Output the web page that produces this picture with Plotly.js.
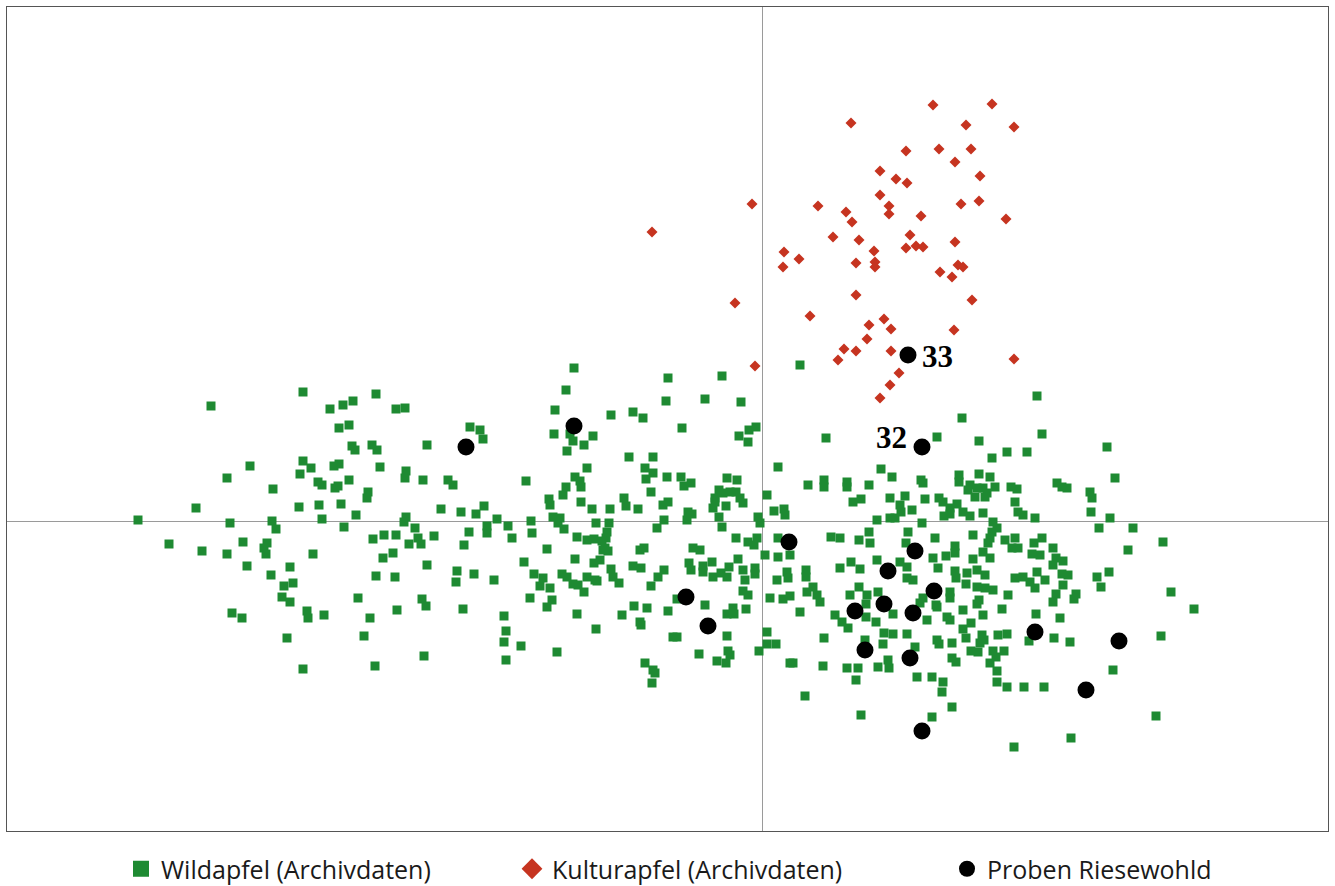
<!DOCTYPE html>
<html>
<head>
<meta charset="utf-8">
<script src="https://cdn.plot.ly/plotly-3.0.1.min.js"></script>
<style>html,body{margin:0;padding:0;background:#fff;}#chart{width:1335px;height:886px;}</style>
</head>
<body>
<div id="chart"></div>
<script>
// Scores on the two ordination axes (arbitrary units, origin = axis crossing)
const wildName = "Wildapfel (Archivdaten)";
const kulturName = "Kulturapfel (Archivdaten)";
const probenName = "Proben Riesewohld";

const wildX = [
-459,-551,-386,-432,-419,-409,-366,-423,-413,-410,-407,-390,-385,-382,-512,-459,-451,-462,-428,-423,
-535,-489,-444,-440,-427,-424,-413,-394,-395,-566,-463,-443,-421,-406,-440,-624,-532,-490,-486,-418,
-593,-519,-495,-498,-389,-378,-366,-560,-535,-449,-369,-496,-515,-491,-472,-478,-469,-480,-472,-530,
-520,-455,-454,-438,-475,-459,-379,-386,-367,-404,-365,-392,-398,-387,
-188,-196,-94,-96,-357,-207,-151,-129,-119,-292,-282,-279,-335,-208,-192,-189,-178,-169,-195,-133,
-109,-117,-109,-116,-95,-356,-357,-339,-314,-309,-236,-175,-187,-182,-181,-196,-199,-181,-213,-212,
-111,-138,-136,-124,-99,-94,-321,-301,-286,-278,-170,-152,-356,-358,-347,-344,-353,-341,-328,-298,
-293,-275,-275,-265,-254,-250,-231,-230,-209,-202,-204,-198,-166,-153,-155,-156,-185,-175,-168,-160,
-105,-98,-215,-157,-122,-118,
-335,-305,-306,-288,-268,-238,-228,-219,-222,-212,-232,-210,-215,-200,-195,-187,-189,-184,-178,-175,
-167,-165,-168,-162,-159,-154,-151,-149,-143,-129,-121,-104,-98,-111,-340,-336,-299,-258,-256,-258,
-241,-256,-205,-338,-185,-166,-140,-128,-115,-122,-121,-94,-117,-109,-107,-110,
38,-40,-57,-21,-80,-23,-14,-13,-6,64,16,119,130,-81,-78,-71,-35,-25,-43,-47,
-39,-32,-26,-22,-19,-36,-49,-47,-43,-74,-70,-75,-40,-4,-2,5,12,22,23,46,
62,62,85,85,107,91,99,128,143,138,139,150,159,161,163,115,128,133,160,146,
177,-26,-14,-5,-8,-69,-62,16,69,78,97,107,108,144,173,
275,200,280,175,217,345,230,245,265,353,197,197,217,228,208,206,215,221,225,233,
213,223,249,255,295,300,305,328,330,181,188,195,201,208,182,188,221,253,256,261,
273,329,348,337,371,401,231,211,230,228,235,193,226,243,253,280,272,291,366,250,256,
171,184,193,221,228,211,270,278,294,301,291,176,193,205,215,223,253,261,275,268,
283,300,306,335,347,339,194,204,215,223,231,188,188,175,201,217,215,221,240,246,
273,294,291,301,314,312,185,188,209,201,204,175,177,190,220,222,218,236,245,274,
298,267,292,308,209,216,231,242,190,194,228,234,235,170,181,180,235,245,262,282,
190,170,252,309,394,351,399,409,432,
-73,-71,-59,-59,-50,-49,-41,-35,-33,-24,-19,-7,-7,-17,-19,-14,-85,-57,-35,-29,
-28,-16,-89,-85,-35,-63,-34,-32,-45,-36,-3,5,5,14,3,16,28,15,26,25,
8,21,28,38,44,44,51,45,55,58,73,80,86,78,89,98,115,97,88,105,
104,104,114,116,131,138,145,145,151,161,158,165,174,62,103,122,131,145,121,153,
28,31,61,85,96,116,126,127,94,155,43,99
];
const wildY = [
129,115,127,112,116,120,112,93,96,75,71,76,71,54,55,60,53,47,55,57,
43,32,39,36,33,35,41,29,23,13,14,16,17,6,2,1,-2,0,-8,-6,
-23,-21,-22,-27,-18,-14,-14,-30,-33,-33,-32,-33,-45,-54,-46,-65,-62,-76,-81,-92,
-97,-90,-97,-94,-117,-148,-37,-55,-56,-77,-89,-97,-115,-145,
153,131,143,120,113,111,106,109,103,94,91,82,76,87,87,80,76,85,70,64,
64,53,48,42,44,50,43,41,41,36,40,53,44,40,34,34,26,19,22,16,
29,23,15,12,16,19,12,9,7,15,12,12,4,-1,-7,-17,-23,-23,-15,-24,
-11,-5,-12,2,-5,-17,0,-12,4,3,-2,-8,-2,-2,-11,-17,-16,-19,-18,-20,
-7,1,-28,-27,-29,-27,
-44,-50,-61,-53,-59,-41,-53,-57,-65,-67,-77,-79,-86,-53,-56,-38,-63,-64,-71,-56,
-59,-60,-42,-39,-29,-30,-48,-56,-62,-45,-47,-56,-49,-65,-78,-85,-88,-95,-110,-121,
-125,-139,-131,-135,-93,-108,-94,-85,-87,-101,-104,-90,-142,-149,-152,-162,
156,145,122,119,93,85,79,91,94,83,54,52,44,44,35,38,43,41,31,23,
28,29,29,23,18,15,13,19,4,9,7,1,-6,4,-2,26,10,12,6,36,
41,34,39,34,36,19,22,23,25,16,9,11,41,38,22,1,3,3,-2,-11,
23,-17,-21,-17,-24,-27,-29,-17,-16,-17,-19,-11,-22,-22,-17,
125,103,87,84,80,74,63,69,69,43,46,39,47,44,36,31,33,33,28,34,
24,24,34,32,38,34,33,29,23,19,13,17,9,5,5,7,8,19,9,6,
3,9,3,-7,-7,-21,-1,-14,-11,-17,-7,-25,-22,-19,-17,-17,-22,-27,-29,-27,-27,
-37,-35,-32,-31,-37,-38,-33,-34,-37,-40,-44,-47,-50,-52,-49,-54,-57,-56,-51,-61,
-59,-53,-54,-56,-51,-66,-57,-63,-66,-67,-69,-71,-77,-86,-89,-79,-83,-94,-88,-74,
-67,-73,-81,-64,-73,-78,-96,-99,-102,-108,-117,-119,-123,-122,-114,-119,-122,-114,-113,-93,
-97,-120,-117,-121,-130,-131,-130,-130,-137,-141,-142,-136,-150,-156,-161,-171,-161,-166,-166,-166,
-186,-196,-226,-217,-195,-149,-115,-71,-88,
-42,-49,-45,-51,-41,-56,-52,-56,-46,-38,-49,-47,-53,-59,-70,-74,-78,-84,-93,-87,
-93,-88,-116,-116,-115,-133,-130,-134,-140,-142,-130,-111,-123,-123,-34,-36,-34,-59,-57,-51,
-77,-78,-75,-91,-49,-56,-66,-71,-74,-81,-94,-101,-107,-47,-41,-48,-39,-66,-74,-74,
-83,-96,-101,-71,-93,-41,-46,-57,-59,-77,-82,-99,-84,-117,-119,-112,-113,-113,-123,-126,
-142,-142,-145,-147,-147,-146,-139,-147,-159,-156,-175,-194
];

const kulturX = [
171,230,89,204,252,144,177,209,193,118,134,145,218,118,-10,56,127,199,217,84,
127,159,90,244,-110,71,97,148,193,144,154,161,22,37,21,112,94,113,113,178,
196,201,190,94,210,-27,48,122,107,129,192,105,82,94,129,76,252,-7,137,128,118
];
const kulturY = [
416,417,398,396,394,370,372,372,359,350,342,338,345,326,317,315,315,317,320,309,
307,305,299,302,289,284,281,286,279,273,275,274,269,262,254,270,258,259,254,249,
256,254,244,226,221,218,205,202,196,192,191,182,172,170,170,161,162,155,148,136,123
];

const probenX = [146,160,-296,-188,27,153,126,172,-76,122,93,151,-54,273,357,103,148,324,160];
const probenY = [166,74,74,95,-21,-30,-50,-70,-76,-83,-90,-92,-105,-111,-120,-129,-137,-169,-210];
const probenLabels = ["33","32","","","","","","","","","","","","","","","","",""];

const xRange = [-755, 566];
const yRange = [-310, 514];

const GREEN = "rgb(30,138,50)";
const RED = "rgb(198,52,32)";
const BLACK = "#000000";

const traces = [
  {type:"scatter", mode:"markers", x:wildX, y:wildY, name:wildName, showlegend:false,
   marker:{symbol:"square", size:9, color:GREEN, line:{width:0}}, hoverinfo:"x+y"},
  {type:"scatter", mode:"markers", x:kulturX, y:kulturY, name:kulturName, showlegend:false,
   marker:{symbol:"diamond", size:8.5, color:RED, line:{width:0}}, hoverinfo:"x+y"},
  {type:"scatter", mode:"markers", x:probenX, y:probenY, name:probenName, showlegend:false,
   marker:{symbol:"circle", size:17, color:BLACK, line:{width:0}}, hoverinfo:"x+y"},
  // legend entries (larger symbols)
  {type:"scatter", mode:"markers", x:[null], y:[null], name:wildName, legend:"legend",
   marker:{symbol:"square", size:24, color:GREEN}},
  {type:"scatter", mode:"markers", x:[null], y:[null], name:kulturName, legend:"legend2",
   marker:{symbol:"diamond", size:20, color:RED}},
  {type:"scatter", mode:"markers", x:[null], y:[null], name:probenName, legend:"legend3",
   marker:{symbol:"circle", size:24, color:BLACK}}
];

const annotations = [];
probenLabels.forEach((lab, i) => {
  if (!lab) return;
  const right = (lab === "33");
  annotations.push({
    x: probenX[i], y: probenY[i], xref:"x", yref:"y", text: lab, showarrow:false,
    xanchor: right ? "left" : "right", yanchor:"middle",
    xshift: right ? 12 : -13, yshift: right ? -1 : 10,
    font:{family:"Liberation Serif, Times New Roman, serif", size:31, color:"#000", weight:"bold"}
  });
});

const legendFont = {family:"Open Sans, Noto Sans, sans-serif", size:25, color:"#1a1a1a"};
const legY = (886 - 869) / 886;
const legCommon = {yref:"container", y:legY, xanchor:"left", yanchor:"middle", orientation:"h",
                   font:legendFont, bgcolor:"rgba(0,0,0,0)", borderwidth:0};
const layout = {
  width:1335, height:886,
  margin:{l:7, r:7, t:7, b:55, pad:0, autoexpand:false},
  paper_bgcolor:"#ffffff", plot_bgcolor:"#ffffff",
  xaxis:{range:xRange, showgrid:false, showticklabels:false, ticks:"",
         zeroline:true, zerolinecolor:"#9a9a9a", zerolinewidth:1,
         showline:true, mirror:true, linecolor:"#555555", linewidth:1},
  yaxis:{range:yRange, showgrid:false, showticklabels:false, ticks:"",
         zeroline:true, zerolinecolor:"#9a9a9a", zerolinewidth:1,
         showline:true, mirror:true, linecolor:"#555555", linewidth:1},
  showlegend:true,
  legend:Object.assign({x:(121-7)/1321}, legCommon),
  legend2:Object.assign({x:(512-7)/1321}, legCommon),
  legend3:Object.assign({x:(947-7)/1321}, legCommon),
  annotations: annotations,
  font:{family:"Open Sans, sans-serif"}
};

Plotly.newPlot("chart", traces, layout, {displayModeBar:false, staticPlot:true});
</script>
</body>
</html>
